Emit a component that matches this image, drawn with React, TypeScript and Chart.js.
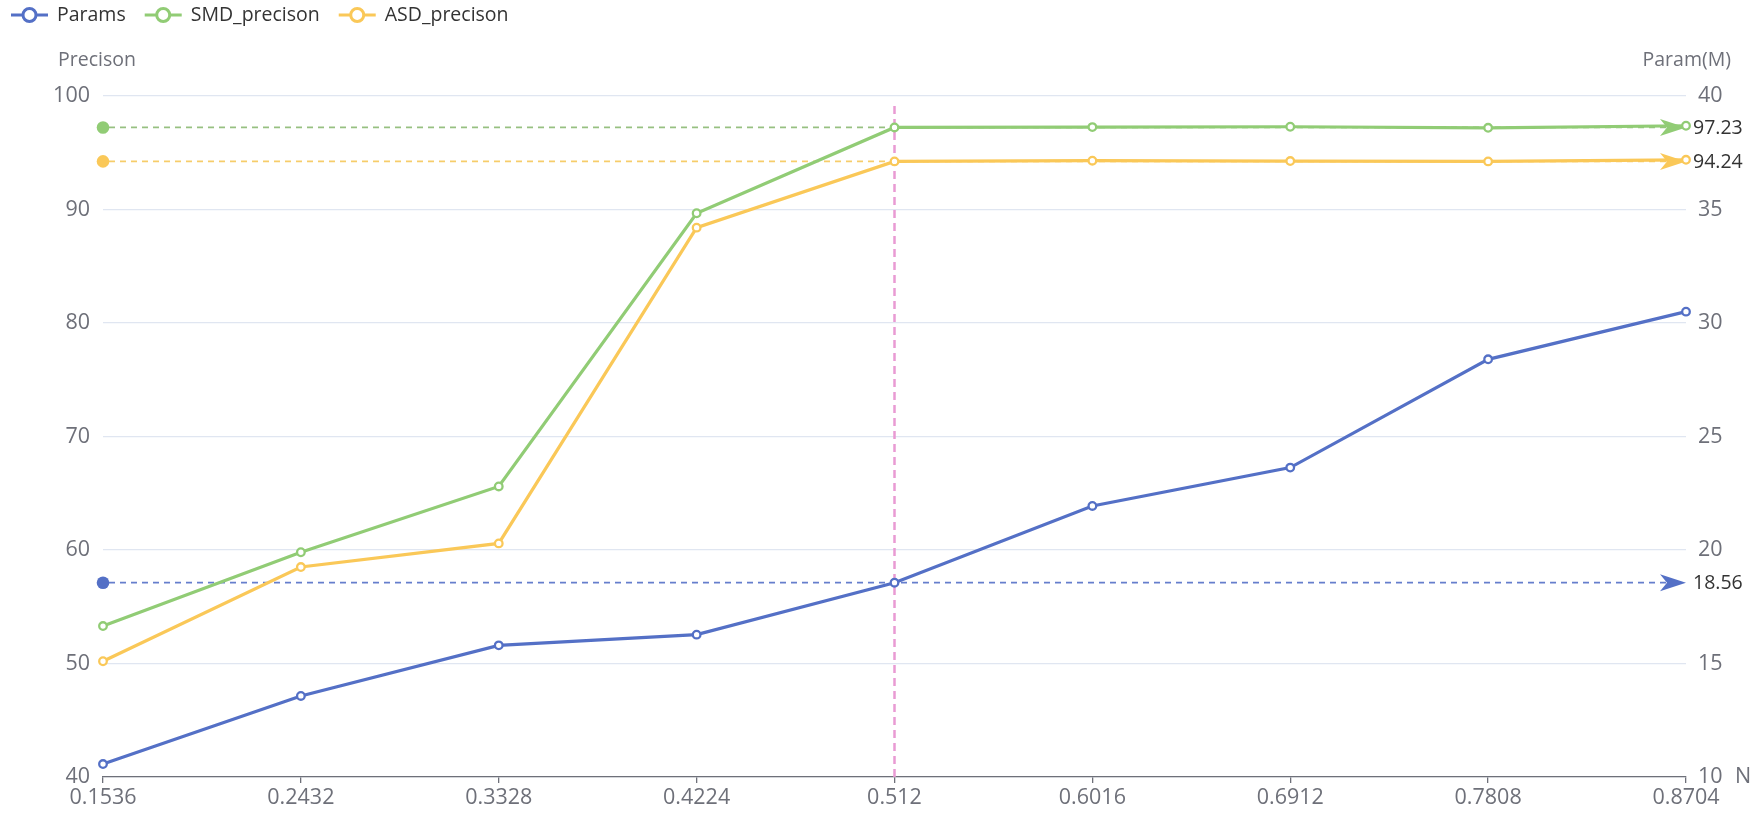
import React, { useEffect, useRef } from 'react';
import { Chart, registerables } from 'chart.js';

Chart.register(...registerables);

// ---- data ----
const categories = ['0.1536', '0.2432', '0.3328', '0.4224', '0.512', '0.6016', '0.6912', '0.7808', '0.8704'];
const paramsValues = [10.57, 13.57, 15.8, 16.27, 18.56, 21.94, 23.63, 28.4, 30.5];
const smdValues = [53.3, 59.8, 65.6, 89.67, 97.23, 97.26, 97.29, 97.2, 97.38];
const asdValues = [50.2, 58.5, 60.58, 88.4, 94.24, 94.3, 94.27, 94.24, 94.38];
const seriesNames = ['Params', 'SMD_precison', 'ASD_precison'];
const markLineValues = [18.56, 97.23, 94.24]; // Params (right axis), SMD, ASD
const verticalMarkAt = '0.512';
const leftAxisRange = [40, 100, 10];
const rightAxisRange = [10, 40, 5];
const leftAxisName = 'Precison';
const rightAxisName = 'Param(M)';
const xAxisName = 'N';

const COLORS = ['#5470c6', '#91cc75', '#fac858'];
const MARK_LINE_COLORS = ['rgba(84,112,198,0.9)', 'rgba(140,185,115,0.9)', 'rgba(245,200,90,0.9)'];
const PINK = '#e99bd3';
const FONT = '"Open Sans", "Noto Sans", sans-serif';
const AXIS_TEXT = '#6e7079';
const TICK_SIZE = 21.5;
const TEXT_SIZE = 19.5;

const overlayPlugin = {
  id: 'overlay',
  beforeDatasetsDraw(chart: any) {
    const { ctx, chartArea: a, scales } = chart;
    const xs = scales.x;
    // vertical pink dashed mark line
    const vx = xs.getPixelForValue(categories.indexOf(verticalMarkAt));
    ctx.save();
    ctx.strokeStyle = PINK;
    ctx.lineWidth = 2.5;
    ctx.setLineDash([8, 5]);
    ctx.beginPath();
    ctx.moveTo(vx, a.top + 10);
    ctx.lineTo(vx, a.bottom);
    ctx.stroke();
    ctx.restore();

    // horizontal mark lines
    markLineValues.forEach((v, i) => {
      const scale = i === 0 ? scales.y1 : scales.y;
      const y = scale.getPixelForValue(v);
      const x0 = a.left;
      const x1 = a.right;
      ctx.save();
      ctx.strokeStyle = MARK_LINE_COLORS[i];
      ctx.lineWidth = 1.7;
      ctx.setLineDash([6, 5]);
      ctx.beginPath();
      ctx.moveTo(x0 + 6, y);
      ctx.lineTo(x1 - 18, y);
      ctx.stroke();
      ctx.setLineDash([]);
      // start circle
      ctx.fillStyle = COLORS[i];
      ctx.beginPath();
      ctx.arc(x0, y, 6.3, 0, Math.PI * 2);
      ctx.fill();
      // arrow at end
      ctx.beginPath();
      ctx.moveTo(x1, y);
      ctx.lineTo(x1 - 26, y - 8.5);
      ctx.lineTo(x1 - 19, y);
      ctx.lineTo(x1 - 26, y + 8.5);
      ctx.closePath();
      ctx.fill();
      // label
      ctx.fillStyle = '#333';
      ctx.font = `${TEXT_SIZE}px ${FONT}`;
      ctx.textAlign = 'left';
      ctx.textBaseline = 'middle';
      ctx.fillText(v.toFixed(2), x1 + 7, y + 1);
      ctx.restore();
    });
  },
  afterDraw(chart: any) {
    const { ctx, chartArea: a } = chart;
    ctx.save();
    // legend
    ctx.font = `${TEXT_SIZE}px ${FONT}`;
    ctx.textBaseline = 'middle';
    ctx.textAlign = 'left';
    let x = 11;
    const ly = 15;
    seriesNames.forEach((name, i) => {
      ctx.strokeStyle = COLORS[i];
      ctx.lineWidth = 3;
      ctx.beginPath();
      ctx.moveTo(x, ly);
      ctx.lineTo(x + 37, ly);
      ctx.stroke();
      ctx.fillStyle = '#fff';
      ctx.beginPath();
      ctx.arc(x + 18.5, ly, 6.5, 0, Math.PI * 2);
      ctx.fill();
      ctx.stroke();
      ctx.fillStyle = '#333';
      ctx.fillText(name, x + 46, ly);
      x += 46 + ctx.measureText(name).width + 19;
    });
    // axis names
    ctx.fillStyle = AXIS_TEXT;
    ctx.textAlign = 'left';
    ctx.fillText(leftAxisName, 58, 60);
    ctx.textAlign = 'right';
    ctx.fillText(rightAxisName, 1731, 60);
    ctx.textAlign = 'left';
    ctx.font = `${TICK_SIZE}px ${FONT}`;
    ctx.fillText(xAxisName, a.right + 49, a.bottom);
    ctx.restore();
  },
};

export default function App() {
  const ref = useRef<HTMLCanvasElement | null>(null);
  useEffect(() => {
    document.body.style.margin = '0';
    const canvas = ref.current;
    if (!canvas) return;
    const pointStyle = (i: number) => ({
      borderColor: COLORS[i],
      backgroundColor: '#fff',
      pointBackgroundColor: '#fff',
      pointBorderColor: COLORS[i],
      pointRadius: 3.8,
      pointBorderWidth: 2.3,
      borderWidth: 3.2,
      tension: 0,
    });
    const chart = new Chart(canvas, {
      type: 'line',
      data: {
        labels: categories,
        datasets: [
          { label: seriesNames[0], data: paramsValues, yAxisID: 'y1', ...pointStyle(0) },
          { label: seriesNames[1], data: smdValues, yAxisID: 'y', ...pointStyle(1) },
          { label: seriesNames[2], data: asdValues, yAxisID: 'y', ...pointStyle(2) },
        ],
      },
      options: {
        responsive: false,
        animation: false,
        devicePixelRatio: 1,
        layout: { padding: { top: 96, left: 0, right: 0, bottom: 0 } },
        plugins: { legend: { display: false }, tooltip: { enabled: false } },
        scales: {
          x: {
            type: 'category',
            offset: false,
            grid: { drawOnChartArea: false, drawTicks: true, tickLength: 6, color: AXIS_TEXT, lineWidth: 1.3 },
            border: { display: true, color: AXIS_TEXT, width: 1.3 },
            ticks: { color: AXIS_TEXT, font: { family: FONT, size: TICK_SIZE }, padding: 2, maxRotation: 0, autoSkip: false },
            afterFit: (s: any) => { s.height = 40; },
          },
          y: {
            position: 'left',
            min: leftAxisRange[0],
            max: leftAxisRange[1],
            ticks: { stepSize: leftAxisRange[2], color: AXIS_TEXT, font: { family: FONT, size: TICK_SIZE }, padding: 13 },
            grid: { color: '#e0e6f1', lineWidth: 1.3, drawTicks: false },
            border: { display: false },
            afterFit: (s: any) => { s.width = 103; },
          },
          y1: {
            position: 'right',
            min: rightAxisRange[0],
            max: rightAxisRange[1],
            ticks: { stepSize: rightAxisRange[2], color: AXIS_TEXT, font: { family: FONT, size: TICK_SIZE }, padding: 12 },
            grid: { drawOnChartArea: false, drawTicks: false },
            border: { display: false },
            afterFit: (s: any) => { s.width = 64; },
          },
        },
      },
      plugins: [overlayPlugin],
    } as any);
    return () => chart.destroy();
  }, []);
  return (
    <div style={{ width: 1750, height: 817, background: '#fff' }}>
      <canvas ref={ref} width={1750} height={817} style={{ display: 'block' }} />
    </div>
  );
}
